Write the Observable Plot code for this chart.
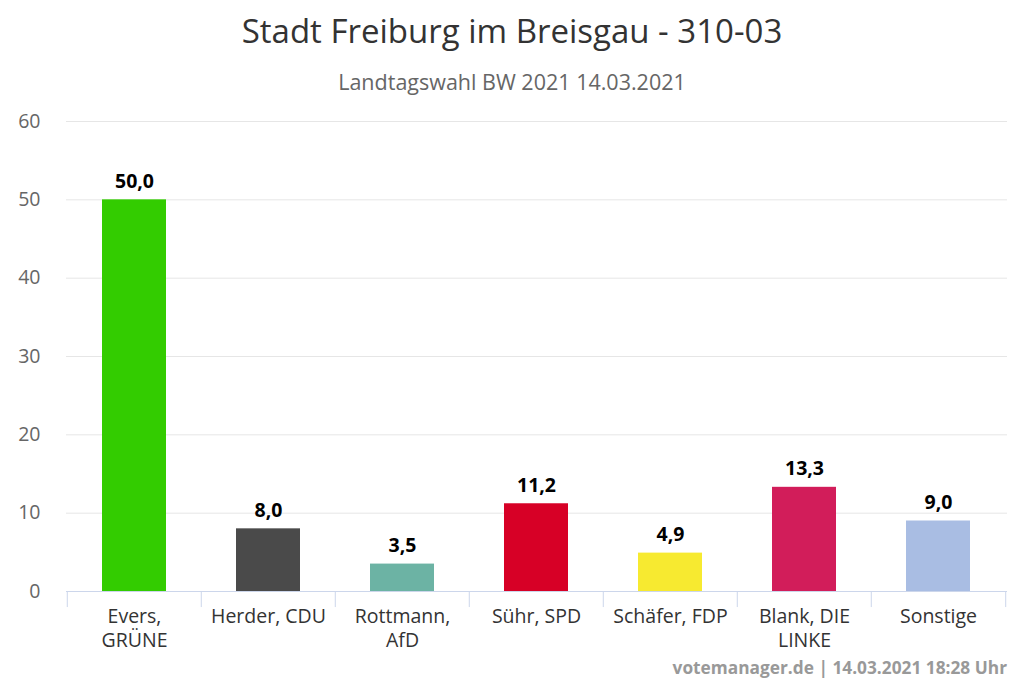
<!DOCTYPE html>
<html>
<head>
<meta charset="utf-8">
<script src="https://cdn.jsdelivr.net/npm/d3@7"></script>
<script src="https://cdn.jsdelivr.net/npm/@observablehq/plot@0.6"></script>
<style>
  html, body { margin: 0; padding: 0; background: #fff; }
  body { width: 1024px; height: 683px; overflow: hidden; font-family: "Open Sans", sans-serif; }
  #title { height: 60px; line-height: 62px; text-align: center; font-size: 33px; color: #333; }
  #subtitle { height: 40px; line-height: 44px; text-align: center; font-size: 21.5px; color: #666; }
  #footer { text-align: right; padding-right: 17px; font-size: 17.3px; font-weight: bold; color: #999; line-height: 20px; }
  svg { display: block; }
</style>
</head>
<body>
<div id="title">Stadt Freiburg im Breisgau - 310-03</div>
<div id="subtitle">Landtagswahl BW 2021 14.03.2021</div>
<div id="chart"></div>
<div id="footer">votemanager.de | 14.03.2021 18:28 Uhr</div>
<script>
const categories = ["Evers, GRÜNE", "Herder, CDU", "Rottmann, AfD", "Sühr, SPD", "Schäfer, FDP", "Blank, DIE LINKE", "Sonstige"];
const tickLabels = ["Evers,\nGRÜNE", "Herder, CDU", "Rottmann,\nAfD", "Sühr, SPD", "Schäfer, FDP", "Blank, DIE\nLINKE", "Sonstige"];
const values = [50.0, 8.0, 3.5, 11.2, 4.9, 13.3, 9.0];
const colors = ["#33cc00", "#4a4a4a", "#6cb3a4", "#d70026", "#f7ea30", "#d21d5a", "#a9bde3"];
const yTicks = [0, 10, 20, 30, 40, 50, 60];

const data = categories.map((c, i) => ({category: c, value: values[i], color: colors[i], label: tickLabels[i]}));
const labelOf = new Map(data.map(d => [d.category, d.label]));

const width = 1024, height = 558;
const marginLeft = 66, marginRight = 17, marginTop = 21, marginBottom = 67;
const step = (width - marginLeft - marginRight) / categories.length;
const fmt = v => v.toFixed(1).replace(".", ",");

const chart = Plot.plot({
  width, height, marginLeft, marginRight, marginTop, marginBottom,
  style: {fontFamily: "'Open Sans', sans-serif", fontSize: "19.5px", background: "#fff"},
  x: {domain: categories, paddingInner: 0.52, paddingOuter: 0.26, label: null},
  y: {domain: [0, 60], label: null},
  marks: [
    Plot.ruleY(yTicks.filter(t => t > 0), {stroke: "#e6e6e6", strokeWidth: 1}),
    Plot.axisY({ticks: yTicks, tickSize: 0, tickPadding: 26, fill: "#666", fontSize: 19.5, label: null}),
    Plot.axisX({tickSize: 0, tickPadding: 15, fill: "#333", fontSize: 19.5, lineHeight: 1.2, tickFormat: d => labelOf.get(d), label: null}),
    Plot.barY(data, {x: "category", y: "value", fill: "color"}),
    Plot.ruleY([0], {stroke: "#ccd6eb", strokeWidth: 1}),
    Plot.ruleX(categories, {x: d => d, y1: 0, y2: -2.05, dx: -step / 2, stroke: "#ccd6eb", strokeWidth: 1}),
    Plot.ruleX(categories.slice(-1), {x: d => d, y1: 0, y2: -2.05, dx: step / 2, stroke: "#ccd6eb", strokeWidth: 1}),
    Plot.text(data, {x: "category", y: "value", text: d => fmt(d.value), lineAnchor: "bottom", dy: -12, fontWeight: "bold", fontSize: 19.5, fill: "#000"})
  ]
});
document.getElementById("chart").appendChild(chart);
</script>
</body>
</html>
